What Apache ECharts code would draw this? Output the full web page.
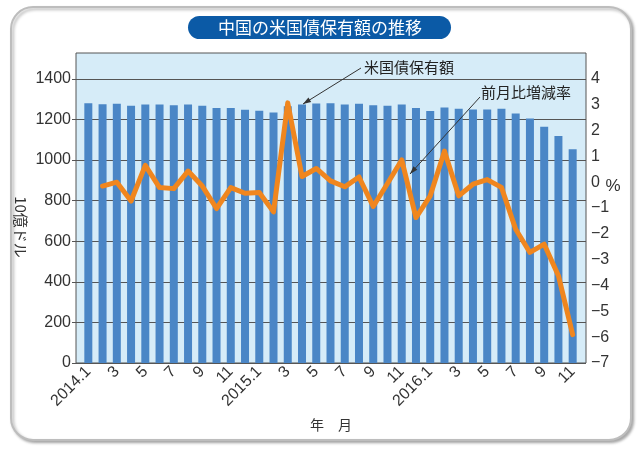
<!DOCTYPE html>
<html>
<head>
<meta charset="utf-8">
<script src="https://cdn.jsdelivr.net/npm/echarts@6/dist/echarts.min.js"></script>
<style>
  html, body { margin: 0; padding: 0; background: #fff; }
  #chart { width: 640px; height: 449px; }
</style>
</head>
<body>
<div id="chart"></div>
<script>
// months 2014.1 .. 2016.11
var months = [
  '2014.1', '2', '3', '4', '5', '6', '7', '8', '9', '10', '11', '12',
  '2015.1', '2', '3', '4', '5', '6', '7', '8', '9', '10', '11', '12',
  '2016.1', '2', '3', '4', '5', '6', '7', '8', '9', '10', '11'
];
// 米国債保有額 (10億ドル)
var holdings = [
  1280, 1275, 1277, 1267, 1274, 1274, 1270, 1274, 1267, 1256, 1256, 1248,
  1243, 1234, 1265, 1274, 1279, 1280, 1274, 1277, 1270, 1267, 1274, 1256,
  1241, 1259, 1252, 1249, 1249, 1252, 1229, 1205, 1164, 1118, 1053
];
// 前月比増減率 (%)
var changeRate = [
  '-', -0.15, 0.0, -0.73, 0.65, -0.21, -0.25, 0.43, -0.15, -1.02, -0.21, -0.43,
  -0.4, -1.15, 3.07, 0.22, 0.53, 0.05, -0.18, 0.2, -0.94, -0.05, 0.86, -1.37,
  -0.53, 1.2, -0.53, -0.08, 0.1, -0.2, -1.82, -2.72, -2.4, -3.62, -5.9
];
var leftTicks = [0, 200, 400, 600, 800, 1000, 1200, 1400];
var rightTicks = [-7, -6, -5, -4, -3, -2, -1, 0, 1, 2, 3, 4];

// left 0..1400 lines up with right -7..4, both run one step past the top
var leftMax = 1400 / 11 * 12;
var rightMin = -7, rightMax = 5;

var numFont = 'Liberation Sans';
var jpFont = '"Noto Sans CJK JP"';

function arrowHead(x1, y1, x2, y2) {
  var dx = x2 - x1, dy = y2 - y1;
  var len = Math.sqrt(dx * dx + dy * dy);
  var ux = dx / len, uy = dy / len;
  var hl = 8, hw = 2.6;
  var bx = x2 - ux * hl, by = y2 - uy * hl;
  return [[x2, y2], [bx - uy * hw, by + ux * hw], [bx + uy * hw, by - ux * hw]];
}

function pointer(x1, y1, x2, y2) {
  return [
    { type: 'polyline', shape: { points: [[x1, y1], [x2, y2]] },
      style: { stroke: '#333', lineWidth: 1 }, z: 10 },
    { type: 'polygon', shape: { points: arrowHead(x1, y1, x2, y2) },
      style: { fill: '#333' }, z: 10 }
  ];
}

var myChart = echarts.init(document.getElementById('chart'));

var option = {
  animation: false,
  backgroundColor: '#fff',
  grid: [
    { // frame + scales
      left: 76, top: 53, width: 510, height: 310,
      show: true, backgroundColor: '#d6ecf8', borderColor: '#555', borderWidth: 1
    },
    { // data
      left: 81.2, top: 53, width: 498.6, height: 310
    }
  ],
  xAxis: [
    { gridIndex: 0, type: 'value', min: 0, max: 1, show: false },
    {
      gridIndex: 1,
      type: 'category',
      data: months,
      axisLine: { show: false },
      axisTick: { show: false },
      axisLabel: {
        interval: 1,
        rotate: 45,
        margin: 6,
        color: '#333',
        fontFamily: numFont,
        fontSize: 16
      }
    }
  ],
  yAxis: [
    {
      gridIndex: 0,
      type: 'value',
      min: 0, max: leftMax, interval: 200,
      axisLine: { show: false },
      axisTick: { show: true, length: 4, customValues: leftTicks, lineStyle: { color: '#555' } },
      axisLabel: {
        customValues: leftTicks,
        margin: 5, color: '#333', fontFamily: numFont, fontSize: 16,
        formatter: function (v) { return String(v); }
      },
      splitLine: { show: true, lineStyle: { color: '#555', width: 1 } }
    },
    {
      gridIndex: 0,
      type: 'value',
      position: 'right',
      min: rightMin, max: rightMax, interval: 1,
      axisLine: { show: false },
      axisTick: { show: false },
      axisLabel: {
        customValues: rightTicks,
        margin: 5, color: '#333', fontFamily: numFont, fontSize: 16,
        formatter: function (v) { return String(v).replace('-', '\u2212'); }
      },
      splitLine: { show: false }
    },
    { gridIndex: 1, type: 'value', min: 0, max: leftMax, show: false },
    { gridIndex: 1, type: 'value', min: rightMin, max: rightMax, show: false }
  ],
  series: [
    {
      name: '米国債保有額',
      type: 'bar',
      xAxisIndex: 1,
      yAxisIndex: 2,
      data: holdings,
      barWidth: 8,
      itemStyle: { color: '#4a86c6' }
    },
    {
      name: '前月比増減率',
      type: 'line',
      xAxisIndex: 1,
      yAxisIndex: 3,
      data: changeRate,
      showSymbol: false,
      symbol: 'none',
      lineStyle: { color: '#f0861e', width: 5, join: 'round', cap: 'round' },
      z: 5
    }
  ],
  graphic: [
    {
      type: 'rect', z: -10,
      shape: { x: 11, y: 7, width: 620, height: 433, r: 22 },
      style: { fill: '#fff', stroke: '#bdbdbd', lineWidth: 2,
        shadowBlur: 3, shadowOffsetX: 2, shadowOffsetY: 2, shadowColor: 'rgba(0,0,0,0.3)' }
    },
    {
      type: 'rect', z: 10,
      shape: { x: 188, y: 16, width: 263, height: 23, r: 11.5 },
      style: { fill: '#0b5aa6' }
    },
    {
      type: 'text', z: 11, x: 320, y: 28,
      style: { text: '中国の米国債保有額の推移', fill: '#fff', font: '17px ' + jpFont,
        align: 'center', verticalAlign: 'middle' }
    },
    {
      type: 'text', z: 10, x: 364, y: 67,
      style: { text: '米国債保有額', fill: '#222', font: '15px ' + jpFont,
        align: 'left', verticalAlign: 'middle' }
    },
    {
      type: 'text', z: 10, x: 481, y: 92,
      style: { text: '前月比増減率', fill: '#222', font: '15px ' + jpFont,
        align: 'left', verticalAlign: 'middle' }
    },
    {
      type: 'text', z: 10, x: 613, y: 186,
      style: { text: '%', fill: '#333', font: '17px ' + numFont,
        align: 'center', verticalAlign: 'middle' }
    },
    {
      type: 'text', z: 10, x: 21, y: 227, rotation: -Math.PI / 2,
      style: { text: '10億ドル', fill: '#333', font: '15px ' + jpFont,
        align: 'center', verticalAlign: 'middle' }
    },
    {
      type: 'text', z: 10, x: 331, y: 425,
      style: { text: '年　月', fill: '#333', font: '14px ' + jpFont,
        align: 'center', verticalAlign: 'middle' }
    }
  ].concat(pointer(361, 68, 303, 104), pointer(480, 97, 410, 174))
};

myChart.setOption(option);
</script>
</body>
</html>
